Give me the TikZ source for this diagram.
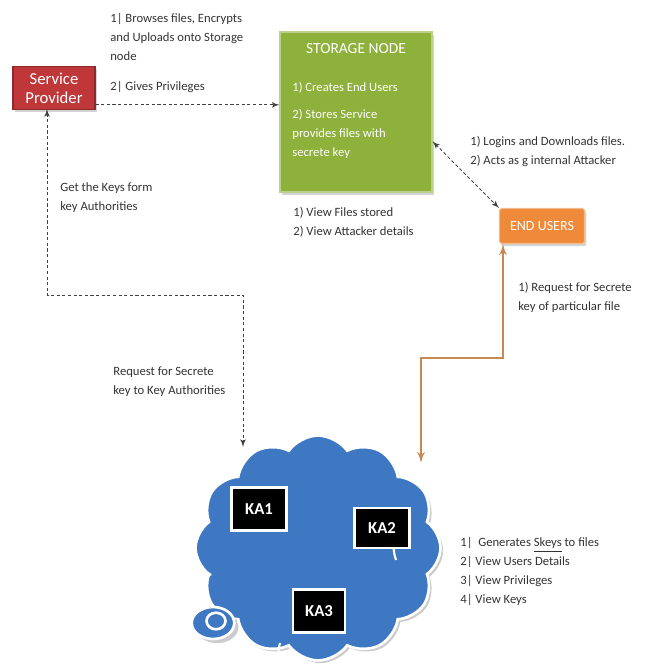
\documentclass[tikz,border=0pt]{standalone}
\usepackage{fontspec}
\setmainfont{Carlito}
\usetikzlibrary{arrows,shapes.symbols,shapes.geometric,shadows}

\definecolor{spred}{HTML}{C0373A}
\definecolor{storegreen}{HTML}{8DB13B}
\definecolor{userorange}{HTML}{EE8A3A}
\definecolor{cloudblue}{HTML}{3F78C2}
\definecolor{linkbrown}{HTML}{C48A52}

\begin{document}
\begin{tikzpicture}
	[x=0.02cm,y=-0.02cm,
	every node/.style={font=\fontsize{7.2}{10.8}\selectfont},
	note/.style={anchor=north west, align=left, inner sep=0, text=black!80},
	block/.style={rectangle, draw=#1!75!black, fill=#1, text=white, line width=0.6pt, drop shadow={opacity=0.35, shadow xshift=1pt, shadow yshift=-1.5pt}},
	kabox/.style={rectangle, fill=black, draw=white, line width=1.2pt, text=white, font=\fontsize{9.5}{11}\selectfont\bfseries},
	edge/.style={->,> = latex', black!75, line width=0.5pt},
	dashlink/.style={edge, dash pattern=on 1.8pt off 1.4pt}]
	\useasboundingbox (0,0) rectangle (646,671);

	% boxes
	\node[block=spred, minimum width=1.64cm, minimum height=0.82cm, align=center, font=\fontsize{9.5}{11}\selectfont] (sp) at (54,88) {Service\\Provider};
	\node[block=storegreen, draw=storegreen!60!white, minimum width=3.04cm, minimum height=3.2cm] (store) at (356,112) {};
	\node[text=white, font=\fontsize{8.8}{10}\selectfont] (storetitle) at (356,49) {STORAGE NODE};
	\node[note, text=white] (storetext) at (292,82) {1) Creates End Users\\[4.5pt]2) Stores Service\\provides files with\\secrete key};
	\node[block=userorange, draw=userorange!60!white, rounded corners=1pt, minimum width=1.7cm, minimum height=0.7cm, font=\fontsize{8}{10}\selectfont] (users) at (542,226) {END USERS};

	% cloud of key authorities
	\node[cloud, cloud puffs=12, cloud puff arc=110, aspect=1.1, fill=cloudblue, draw=white, line width=1.5pt, minimum width=4.9cm, minimum height=4.5cm, drop shadow={opacity=0.4, shadow xshift=1.5pt, shadow yshift=-1.5pt}] (cloud) at (318,548) {};
	\draw[white, line width=1.2pt] (396,560) arc (160:215:40);
	\draw[white, line width=1.2pt] (194,574) arc (260:285:40);
	\draw[white, line width=1.2pt] (280,643) arc (200:150:25);
	\node[ellipse, fill=cloudblue, draw=white, line width=1.5pt, minimum width=0.85cm, minimum height=0.64cm, drop shadow={opacity=0.4}] (bubble) at (213,623) {};
	\node[ellipse, draw=white, line width=1.5pt, minimum width=0.38cm, minimum height=0.28cm] (bubblein) at (216,621) {};
	\node[kabox, minimum width=1.1cm, minimum height=0.86cm] (ka1) at (259,509) {KA1};
	\node[kabox, minimum width=1.1cm, minimum height=0.8cm] (ka2) at (382,528) {KA2};
	\node[kabox, minimum width=1.04cm, minimum height=0.86cm] (ka3) at (319,611) {KA3};

	% turning points
	\coordinate (sparrow) at ([yshift=-9.6pt]sp.east);
	\coordinate (spout) at (47,109);
	\coordinate (kain) at (243,447);
	\coordinate (usersout) at (503,244);
	\coordinate (cloudin) at (421,463);

	% connectors
	\draw[dashlink] (sparrow) -- (sparrow -| store.west);
	\draw[dashlink, <->] (store.-21) -- (users.north west);
	\draw[dashlink, <->] (spout) -- (47,295) -| (kain);
	\draw[edge, <->, linkbrown, line width=1.2pt] (usersout) -- (503,358) -| (cloudin);

	% labels
	\node[note] (upnote) at (110,13) {1| Browses files, Encrypts\\and Uploads onto Storage\\node};
	\node[note] (privnote) at (110,81) {2| Gives Privileges};
	\node[note] (usernote) at (470,136) {1) Logins and Downloads files.\\2) Acts as g internal Attacker};
	\node[note] (viewnote) at (293,207) {1) View Files stored\\2) View Attacker details};
	\node[note] (keynote) at (60,182) {Get the Keys form\\key Authorities};
	\node[note] (reqnote) at (113,366) {Request for Secrete\\key to Key Authorities};
	\node[note] (filenote) at (518,282) {1) Request for Secrete\\key of particular file};
	\node[note] (kanote) at (460,537) {1|\ \ Generates \underline{Skeys} to files\\2| View Users Details\\3| View Privileges\\4| View Keys};
\end{tikzpicture}
\end{document}
